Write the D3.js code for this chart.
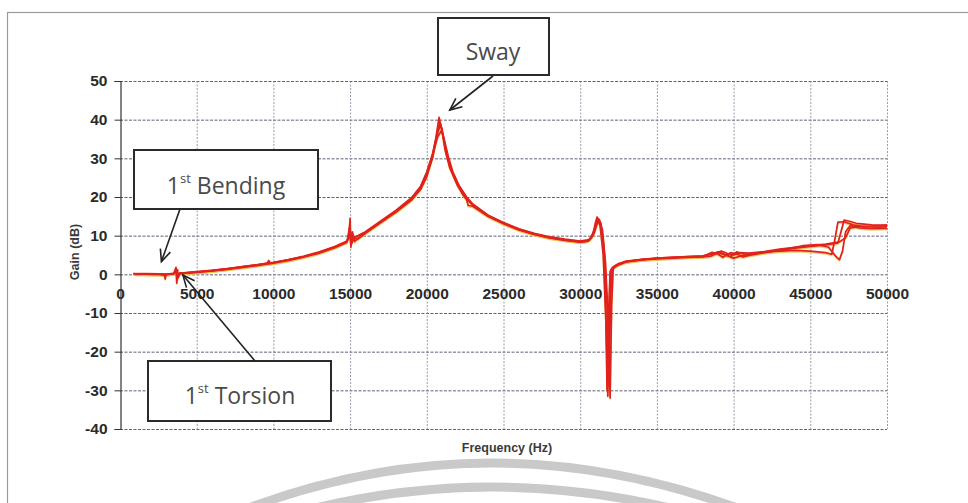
<!DOCTYPE html>
<html>
<head>
<meta charset="utf-8">
<script src="https://cdn.jsdelivr.net/npm/d3@7/dist/d3.min.js"></script>
<style>
  html, body { margin: 0; padding: 0; background: #fff; }
  svg { display: block; }
</style>
</head>
<body>
<svg id="chart" width="968" height="503"></svg>
<script>
// ---------------- DATA ----------------
const xTicks = [0, 5000, 10000, 15000, 20000, 25000, 30000, 35000, 40000, 45000, 50000];
const yTicks = [-40, -30, -20, -10, 0, 10, 20, 30, 40, 50];
const xTitle = "Frequency (Hz)";
const yTitle = "Gain (dB)";

// [frequency (Hz), gain (dB)] for each measured trace
const trace1 = [[850,0.2],[1500,0.1],[2500,0.0],[2900,-0.2],[2950,-1.2],[3000,-0.1],[3500,0.2],[3650,1.8],[3700,-2.3],[3750,1.2],[3800,-0.8],[3900,0.3],[4500,0.4],[5000,0.6],[6000,0.9],[7000,1.4],[8000,1.9],[9000,2.4],[9600,2.9],[9700,3.6],[9800,2.8],[10000,3.0],[11000,3.7],[12000,4.6],[13000,5.6],[14000,7.0],[14700,8.2],[14900,9.2],[15000,14.5],[15050,7.0],[15150,11.0],[15300,8.5],[15500,9.3],[16000,10.8],[17000,13.6],[18000,16.3],[19000,19.4],[19600,22.3],[20000,25.8],[20300,29.5],[20600,35.5],[20800,40.6],[20950,38.0],[21200,32.0],[21500,27.5],[22000,23.0],[22400,20.3],[22600,19.3],[22700,17.8],[23000,17.6],[24000,15.0],[25000,13.2],[26000,11.6],[27000,10.4],[28000,9.5],[29000,8.9],[30000,8.4],[30500,8.6],[30800,9.8],[31000,13.5],[31100,14.8],[31300,12.5],[31500,5.0],[31700,-15.0],[31800,-31.5],[31900,-12.0],[32000,1.2],[32300,2.3],[33000,3.3],[34000,3.8],[35000,4.1],[36000,4.3],[37000,4.5],[38000,4.6],[38600,5.7],[39000,5.2],[39300,4.4],[39800,5.6],[40200,5.3],[40600,4.5],[41000,4.9],[42000,5.6],[43000,6.2],[44000,6.8],[45000,7.2],[46000,7.6],[46800,8.1],[47000,11.0],[47200,14.0],[47500,13.8],[48000,13.2],[49000,12.8],[50000,12.6]];

const trace2 = [[900,0.1],[1600,0.2],[2600,0.1],[3000,0.0],[3500,0.1],[3680,1.2],[3720,-1.5],[3800,0.2],[4500,0.5],[5000,0.7],[6000,1.0],[7000,1.5],[8000,2.0],[9000,2.5],[10000,3.1],[11000,3.8],[12000,4.7],[13000,5.8],[14000,7.2],[14800,8.6],[15000,11.5],[15100,8.0],[15300,9.6],[16000,11.0],[17000,13.8],[18000,16.6],[19000,19.8],[19600,22.8],[20000,26.5],[20400,31.5],[20700,36.5],[20900,38.8],[21050,36.0],[21300,31.0],[21600,27.0],[22000,23.5],[22500,20.2],[23000,18.0],[24000,15.2],[25000,13.3],[26000,11.7],[27000,10.5],[28000,9.6],[29000,9.0],[30000,8.5],[30600,8.8],[30900,10.5],[31100,13.0],[31250,14.2],[31450,11.5],[31650,3.0],[31850,-14.0],[31950,-32.0],[32050,-8.0],[32150,1.5],[32500,2.6],[33000,3.3],[34000,3.8],[35000,4.2],[36000,4.4],[37000,4.6],[38000,4.7],[38500,5.2],[39000,5.8],[39500,5.0],[40000,4.2],[40500,4.8],[41000,5.2],[42000,5.8],[43000,6.0],[44000,6.2],[45000,6.0],[46000,5.6],[46400,5.2],[46600,9.0],[46800,13.5],[47200,13.6],[47800,12.8],[48500,12.3],[49500,12.2],[50000,12.3]];

const trace3 = [[1000,0.0],[2000,0.1],[3000,0.0],[3500,0.2],[3700,0.8],[3750,-1.0],[3850,0.2],[4500,0.4],[5000,0.5],[6000,0.9],[7000,1.3],[8000,1.8],[9000,2.3],[10000,2.9],[11000,3.6],[12000,4.5],[13000,5.5],[14000,6.9],[14800,8.3],[14950,12.0],[15050,7.5],[15200,9.8],[15500,9.1],[16000,10.6],[17000,13.4],[18000,16.1],[19000,19.2],[19600,22.0],[20000,25.3],[20400,30.5],[20700,37.0],[20850,39.3],[21000,37.5],[21200,33.0],[21500,28.0],[22000,23.2],[22500,20.0],[23000,17.8],[24000,15.0],[25000,13.1],[26000,11.5],[27000,10.3],[28000,9.4],[29000,8.8],[30000,8.3],[30400,8.5],[30700,9.4],[30950,12.0],[31100,14.0],[31300,13.0],[31500,8.0],[31650,-5.0],[31750,-30.0],[31850,-10.0],[31950,0.8],[32200,2.0],[33000,3.2],[34000,3.7],[35000,4.0],[36000,4.2],[37000,4.4],[38000,4.5],[38500,4.7],[39000,5.6],[39400,5.1],[39800,4.6],[40200,5.8],[40700,5.2],[41500,5.4],[42500,6.0],[43500,6.6],[44500,7.4],[45500,7.7],[46200,7.0],[46700,4.5],[46900,3.8],[47100,6.0],[47300,11.0],[47600,12.6],[48200,12.0],[49000,11.8],[50000,11.9]];

const trace4 = [[1100,0.1],[2200,0.0],[3200,0.1],[3600,0.3],[3700,1.0],[3760,-0.8],[3900,0.3],[4600,0.5],[5000,0.6],[6000,1.0],[7000,1.4],[8000,2.0],[9000,2.5],[10000,3.0],[11000,3.8],[12000,4.6],[13000,5.7],[14000,7.1],[14800,8.5],[15000,10.5],[15100,8.4],[15300,9.5],[16000,10.9],[17000,13.7],[18000,16.4],[19000,19.6],[19600,22.6],[20000,26.2],[20400,31.0],[20700,35.5],[20950,37.2],[21100,35.5],[21400,30.5],[21700,26.5],[22100,23.0],[22600,20.0],[23000,18.2],[24000,15.3],[25000,13.4],[26000,11.8],[27000,10.6],[28000,9.7],[29000,9.1],[30000,8.6],[30600,9.0],[30900,11.0],[31150,14.5],[31350,13.2],[31550,7.0],[31750,-8.0],[31880,-29.0],[31980,-6.0],[32100,1.8],[32500,2.8],[33000,3.4],[34000,3.9],[35000,4.2],[36000,4.4],[37000,4.6],[38000,4.8],[38700,5.4],[39200,6.0],[39600,5.4],[40000,5.0],[40400,5.6],[41000,5.5],[42000,5.9],[43000,6.5],[44000,7.0],[45000,7.4],[46000,7.8],[46900,8.4],[47300,9.5],[47600,12.0],[48200,12.4],[49000,12.5],[50000,12.8]];

const traces = [trace1, trace2, trace3, trace4];

// ---------------- DRAW ----------------
const svg = d3.select("#chart");
const plot = { left: 120, right: 887, top: 81, bottom: 429 };

const x = d3.scaleLinear().domain([0, 50000]).range([plot.left, plot.right]);
const y = d3.scaleLinear().domain([-40, 50]).range([plot.bottom, plot.top]);
const fmt = d => String(d);

// page frame (scan border)
svg.append("rect").attr("x", 7.5).attr("y", 12.5).attr("width", 1000).attr("height", 600)
  .attr("fill", "none").attr("stroke", "#9a9a9a").attr("stroke-width", 1.2);

// watermark arcs at bottom
const wm = svg.append("g").attr("fill", "none").attr("stroke", "#c9c9c9").attr("stroke-width", 9);
wm.append("path").attr("d", "M 238 512 Q 490 414 748 512");
wm.append("path").attr("d", "M 292 514 Q 490 460 694 514");

// grid lines
const grid = svg.append("g");
grid.selectAll("line.h").data(yTicks).join("line")
  .attr("x1", plot.left).attr("x2", plot.right)
  .attr("y1", d => y(d) + 0.5).attr("y2", d => y(d) + 0.5)
  .attr("stroke", "#5d6276").attr("stroke-width", 1).attr("stroke-dasharray", "3,1.5");
grid.selectAll("line.v").data(xTicks.filter(d => d > 0)).join("line")
  .attr("x1", d => x(d) + 0.5).attr("x2", d => x(d) + 0.5)
  .attr("y1", plot.top).attr("y2", plot.bottom)
  .attr("stroke", "#7f8498").attr("stroke-width", 0.8).attr("stroke-dasharray", "2,1.5");

// y axis
const yAxis = svg.append("g").attr("transform", `translate(${plot.left + 0.5},0)`)
  .call(d3.axisLeft(y).tickValues(yTicks).tickSize(6).tickPadding(7).tickFormat(fmt));
yAxis.select(".domain").attr("stroke", "#333").attr("stroke-width", 1.2);
yAxis.selectAll(".tick line").attr("stroke", "#333");
yAxis.selectAll("text").attr("font-family", "Liberation Sans, Arial, sans-serif")
  .attr("font-size", 15.5).attr("font-weight", "bold").attr("fill", "#2a2a2a");

// x axis labels at zero line
const xAxis = svg.append("g").attr("transform", `translate(0,${y(0)})`)
  .call(d3.axisBottom(x).tickValues(xTicks).tickSize(0).tickPadding(14).tickFormat(fmt));
xAxis.select(".domain").remove();
xAxis.selectAll("text").attr("font-family", "Liberation Sans, Arial, sans-serif")
  .attr("font-size", 15.5).attr("font-weight", "bold").attr("fill", "#2a2a2a");

// axis titles
svg.append("text").attr("x", 507).attr("y", 452).attr("text-anchor", "middle")
  .attr("font-family", "Liberation Sans, Arial, sans-serif").attr("font-size", 12.5)
  .attr("font-weight", "bold").attr("fill", "#3a3a3a").text(xTitle);
svg.append("text").attr("transform", "translate(79,252) rotate(-90)").attr("text-anchor", "middle")
  .attr("font-family", "Liberation Sans, Arial, sans-serif").attr("font-size", 12.5)
  .attr("font-weight", "bold").attr("fill", "#3a3a3a").text(yTitle);

// traces
const line = d3.line().x(d => x(d[0])).y(d => y(d[1]));
const tg = svg.append("g");
tg.selectAll("path.shadow").data(traces).join("path")
  .attr("d", line).attr("fill", "none").attr("stroke", "#f2c14a").attr("stroke-width", 1.5)
  .attr("transform", "translate(0,1.3)").attr("opacity", 0.8);
tg.selectAll("path.main").data(traces).join("path")
  .attr("d", line).attr("fill", "none").attr("stroke", "#e0221e").attr("stroke-width", 1.7)
  .attr("stroke-linejoin", "round");

// annotations
const ann = svg.append("g");
function arrow(x1, y1, x2, y2) {
  ann.append("line").attr("x1", x1).attr("y1", y1).attr("x2", x2).attr("y2", y2)
    .attr("stroke", "#222").attr("stroke-width", 1.6);
  const a = Math.atan2(y1 - y2, x1 - x2), L = 13, s = 0.42;
  ann.append("path")
    .attr("d", `M ${x2 + L * Math.cos(a + s)} ${y2 + L * Math.sin(a + s)} L ${x2} ${y2} L ${x2 + L * Math.cos(a - s)} ${y2 + L * Math.sin(a - s)}`)
    .attr("fill", "none").attr("stroke", "#222").attr("stroke-width", 1.6);
}
function box(x0, y0, w, h, main, sup, rest, cx, cy) {
  ann.append("rect").attr("x", x0).attr("y", y0).attr("width", w).attr("height", h)
    .attr("fill", "#fff").attr("stroke", "#2a2a2a").attr("stroke-width", 2);
  const t = ann.append("text").attr("x", cx).attr("y", cy).attr("text-anchor", "middle")
    .attr("font-family", "Open Sans, Noto Sans, sans-serif").attr("font-size", 23)
    .attr("fill", "#4a4a4a");
  t.append("tspan").text(main);
  if (sup) {
    t.append("tspan").attr("font-size", 13).attr("dy", -11).text(sup);
    t.append("tspan").attr("dy", 11).text(rest);
  }
}
box(438, 18, 111, 57, "Sway", null, null, 493, 60);
arrow(493, 76, x(21500), y(42.5));
box(134, 150, 184, 59, "1", "st", " Bending", 226, 194);
arrow(180, 209, x(2700), y(3.3));
box(148, 361, 183, 60, "1", "st", " Torsion", 240, 404);
arrow(255, 361, x(4100), y(-0.2));
</script>
</body>
</html>
